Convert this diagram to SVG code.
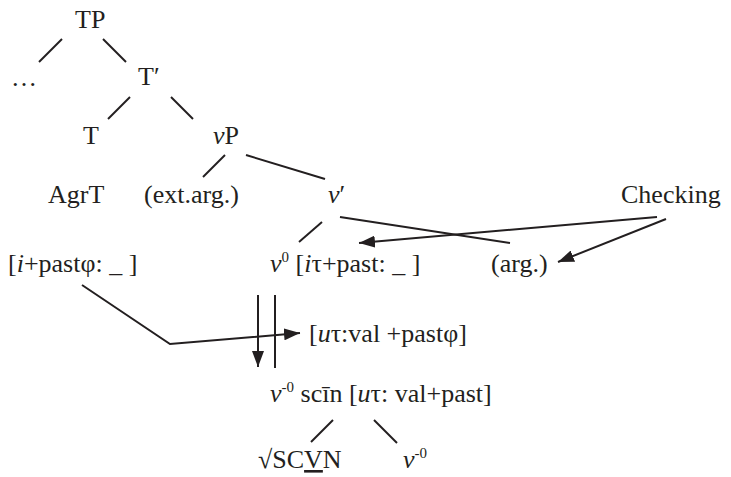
<svg xmlns="http://www.w3.org/2000/svg" width="731" height="477" viewBox="0 0 731 477">
<style>
text{font-family:"Liberation Serif","Times New Roman",serif;font-size:26px;fill:#231f20}
.it{font-style:italic}
.sup{font-size:15px}
line,polyline{stroke:#231f20;stroke-width:2;fill:none}
</style>
<defs>
<marker id="ah" markerUnits="userSpaceOnUse" markerWidth="18" markerHeight="12" refX="16" refY="6" orient="auto">
<path d="M0,0 L16,6 L0,12 Z" fill="#231f20"/>
</marker>
</defs>
<g id="n-TP"><text x="75" y="28">TP</text></g>
<g id="n-dots"><text x="11" y="86">…</text></g>
<g id="n-Tbar"><text x="138" y="85">T′</text></g>
<g id="n-T"><text x="83" y="144">T</text></g>
<g id="n-vP"><text x="213" y="144"><tspan class="it">v</tspan>P</text></g>
<g id="n-AgrT"><text x="48" y="203">AgrT</text></g>
<g id="n-extarg"><text x="144" y="203">(ext.arg.)</text></g>
<g id="n-vbar"><text x="328" y="203"><tspan class="it">v</tspan>′</text></g>
<g id="n-checking"><text x="621" y="203">Checking</text></g>
<g id="n-ipast"><text x="8" y="272">[<tspan class="it">i</tspan>+pastφ: _ ]</text></g>
<g id="n-v0"><text x="270" y="272"><tspan class="it">v</tspan><tspan class="sup" dy="-10">0</tspan><tspan dy="10"> [</tspan><tspan class="it">i</tspan>τ+past: _ ]</text></g>
<g id="n-arg"><text x="491" y="272">(arg.)</text></g>
<g id="n-uval"><text x="309" y="342">[<tspan class="it">u</tspan>τ:val +pastφ]</text></g>
<g id="n-scin"><text x="270" y="402"><tspan class="it">v</tspan><tspan class="sup" dy="-10">-0</tspan><tspan dy="10"> scīn [</tspan><tspan class="it">u</tspan>τ: val+past]</text></g>
<g id="n-root"><text x="258" y="468">√SC<tspan text-decoration="underline">V</tspan>N</text></g>
<g id="n-v0b"><text x="403" y="468"><tspan class="it">v</tspan><tspan class="sup" dy="-10">-0</tspan></text></g>
<g id="connectors">
<line x1="62" y1="39" x2="39" y2="62"/>
<line x1="103" y1="39" x2="126" y2="62"/>
<line x1="130" y1="97" x2="108" y2="119"/>
<line x1="171" y1="97" x2="193" y2="119"/>
<line x1="225" y1="155" x2="203" y2="177"/>
<line x1="246" y1="155" x2="325" y2="179"/>
<line x1="322" y1="222" x2="299" y2="242"/>
<line x1="340" y1="217" x2="510" y2="243"/>
<line x1="657" y1="217" x2="359" y2="243" marker-end="url(#ah)"/>
<line x1="666" y1="219" x2="558" y2="262" marker-end="url(#ah)"/>
<polyline points="82,285 170,344 300,333" marker-end="url(#ah)"/>
<line x1="258" y1="295" x2="258" y2="367" marker-end="url(#ah)"/>
<line x1="275" y1="295" x2="275" y2="368"/>
<line x1="333" y1="420" x2="311" y2="442"/>
<line x1="374" y1="420" x2="397" y2="443"/>
</g>
</svg>
